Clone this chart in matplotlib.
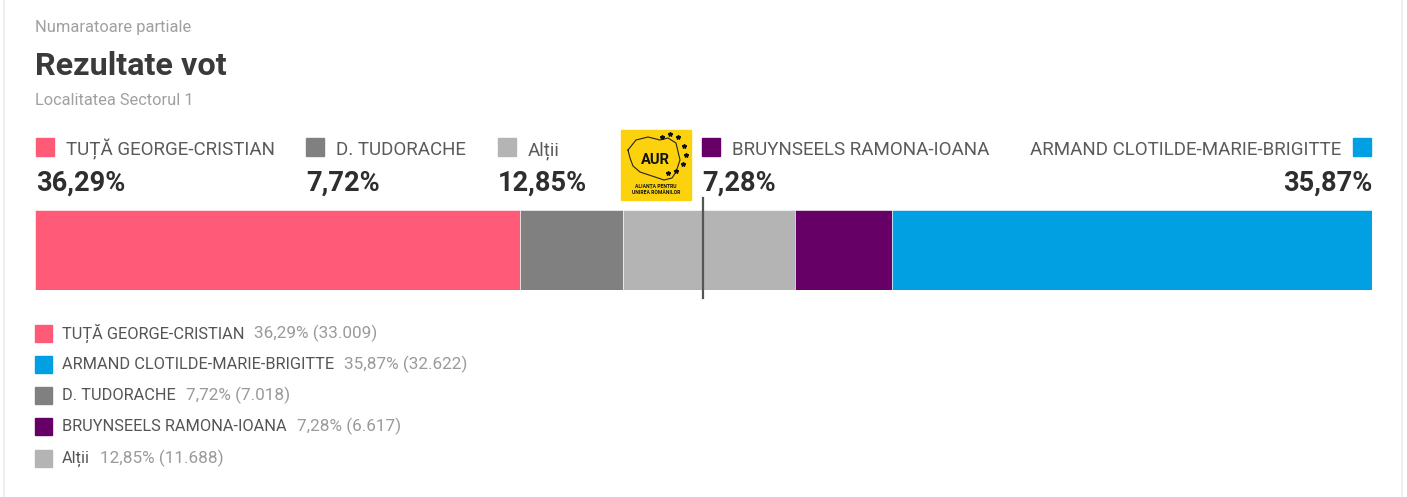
import matplotlib
matplotlib.use("Agg")
import matplotlib.pyplot as plt
from matplotlib.patches import Rectangle
import numpy as np

# ---- data ----
bar_names = ["TUȚĂ GEORGE-CRISTIAN", "D. TUDORACHE", "Alții", "BRUYNSEELS RAMONA-IOANA", "ARMAND CLOTILDE-MARIE-BRIGITTE"]
bar_pcts = [36.29, 7.72, 12.85, 7.28, 35.87]
bar_colors = ["#ff5a78", "#808080", "#b4b4b4", "#660066", "#00a0e2"]

legend_names = ["TUȚĂ GEORGE-CRISTIAN", "ARMAND CLOTILDE-MARIE-BRIGITTE", "D. TUDORACHE", "BRUYNSEELS RAMONA-IOANA", "Alții"]
legend_pcts = ["36,29%", "35,87%", "7,72%", "7,28%", "12,85%"]
legend_votes = ["33.009", "32.622", "7.018", "6.617", "11.688"]
legend_colors = ["#ff5a78", "#00a0e2", "#808080", "#660066", "#b4b4b4"]

supertitle = "Numaratoare partiale"
title = "Rezultate vot"
subtitle = "Localitatea Sectorul 1"

W, H = 1407, 497
FONT = ["Roboto", "DejaVu Sans"]
plt.rcParams["font.family"] = FONT

fig = plt.figure(figsize=(W / 100, H / 100), dpi=100)
fig.patch.set_facecolor("white")

def fx(x):
    return x / W

def fy(y):
    return 1 - y / H

# card borders
fig.add_artist(plt.Line2D([fx(4), fx(4)], [0, 1], color="#ececec", lw=1.2))
fig.add_artist(plt.Line2D([fx(1402), fx(1402)], [0, 1], color="#ececec", lw=1.2))

# titles
fig.text(fx(35), fy(32), supertitle, fontsize=11.9, color="#a0a0a0", va="baseline")
fig.text(fx(35), fy(75), title, fontsize=23.3, fontweight="bold", color="#3a3a3a", va="baseline")
fig.text(fx(35), fy(105), subtitle, fontsize=11.8, color="#a0a0a0", va="baseline")

# stacked bar
bx0, bx1, by0, by1 = 35, 1372, 210, 290
ax = fig.add_axes([fx(bx0), fy(by1), fx(bx1 - bx0), (by1 - by0) / H])
left = 0.0
for name, p, c in zip(bar_names, bar_pcts, bar_colors):
    ax.barh(0, p, left=left, height=1.0, color=c, edgecolor="white", linewidth=0.4)
    left += p
ax.set_xlim(0, sum(bar_pcts))
ax.set_ylim(-0.5, 0.5)
ax.axis("off")

# 50% marker line
mid = fx(bx0 + (bx1 - bx0) * 50 / sum(bar_pcts))
fig.add_artist(plt.Line2D([mid, mid], [fy(298), fy(198)], color="#555555", lw=1.6))

# top legend
sq = 18
label_fs = 13.5
pct_fs = 19.6
top_left_x = [36, 306, 498, 702]
top_idx = [0, 1, 2, 3]
for i, x in zip(top_idx, top_left_x):
    fig.add_artist(Rectangle((fx(x), fy(156)), sq / W, sq / H, color=bar_colors[i], transform=fig.transFigure))
    fig.text(fx(x + 30), fy(155), bar_names[i], fontsize=label_fs, color="#5a5a5a", va="baseline")
    fig.text(fx(x), fy(191), f"{bar_pcts[i]:.2f}%".replace(".", ","), fontsize=pct_fs,
             fontweight="semibold", color="#2e2e2e", va="baseline")
# right aligned item
fig.add_artist(Rectangle((fx(1353), fy(156)), sq / W, sq / H, color=bar_colors[4], transform=fig.transFigure))
fig.text(fx(1341), fy(155), bar_names[4], fontsize=label_fs, color="#5a5a5a", va="baseline", ha="right")
fig.text(fx(1372), fy(191), f"{bar_pcts[4]:.2f}%".replace(".", ","), fontsize=pct_fs,
         fontweight="semibold", color="#2e2e2e", va="baseline", ha="right")

# AUR logo
lx0, ly0, lsz = 621, 130, 70
fig.add_artist(Rectangle((fx(lx0), fy(ly0 + lsz)), lsz / W, lsz / H, color="#fcd20f", transform=fig.transFigure))
outline_x = [628, 636, 648, 660, 668, 676, 680, 676, 672, 664, 652, 640, 633, 630, 628]
outline_y = [150, 140, 137, 140, 138, 143, 160, 172, 178, 180, 176, 172, 166, 158, 150]
fig.add_artist(plt.Line2D([fx(v) for v in outline_x], [fy(v) for v in outline_y], color="#222222", lw=0.8))
fig.text(fx(655), fy(160), "AUR", fontsize=10.5, fontweight="bold", color="#111111", ha="center", va="center")
star_x = [662, 670, 678, 684, 686, 683, 676, 668]
star_y = [137, 134, 137, 146, 155, 164, 171, 173]
for sx, sy in zip(star_x, star_y):
    fig.add_artist(plt.Line2D([fx(sx)], [fy(sy)], marker="*", ms=3.2, color="#111111", lw=0))
fig.text(fx(656), fy(186), "ALIANȚA PENTRU", fontsize=3.6, fontweight="bold", color="#111111", ha="center", va="center")
fig.text(fx(656), fy(193), "UNIREA ROMÂNILOR", fontsize=3.6, fontweight="bold", color="#111111", ha="center", va="center")

# bottom legend
row_y = [333.5, 364.5, 395.5, 426.5, 458.5]
renderer = fig.canvas.get_renderer()
for name, p, v, c, y in zip(legend_names, legend_pcts, legend_votes, legend_colors, row_y):
    fig.add_artist(Rectangle((fx(35), fy(y + 8.5)), 17 / W, 17 / H, color=c, transform=fig.transFigure))
    t = fig.text(fx(62), fy(y), name, fontsize=11.75, color="#555555", va="center")
    bb = t.get_window_extent(renderer=renderer)
    fig.text(bb.x1 / W + fx(10), fy(y), f"{p} ({v})", fontsize=12.3, color="#9a9a9a", va="center")

fig.savefig("out.png", dpi=100, facecolor="white")
